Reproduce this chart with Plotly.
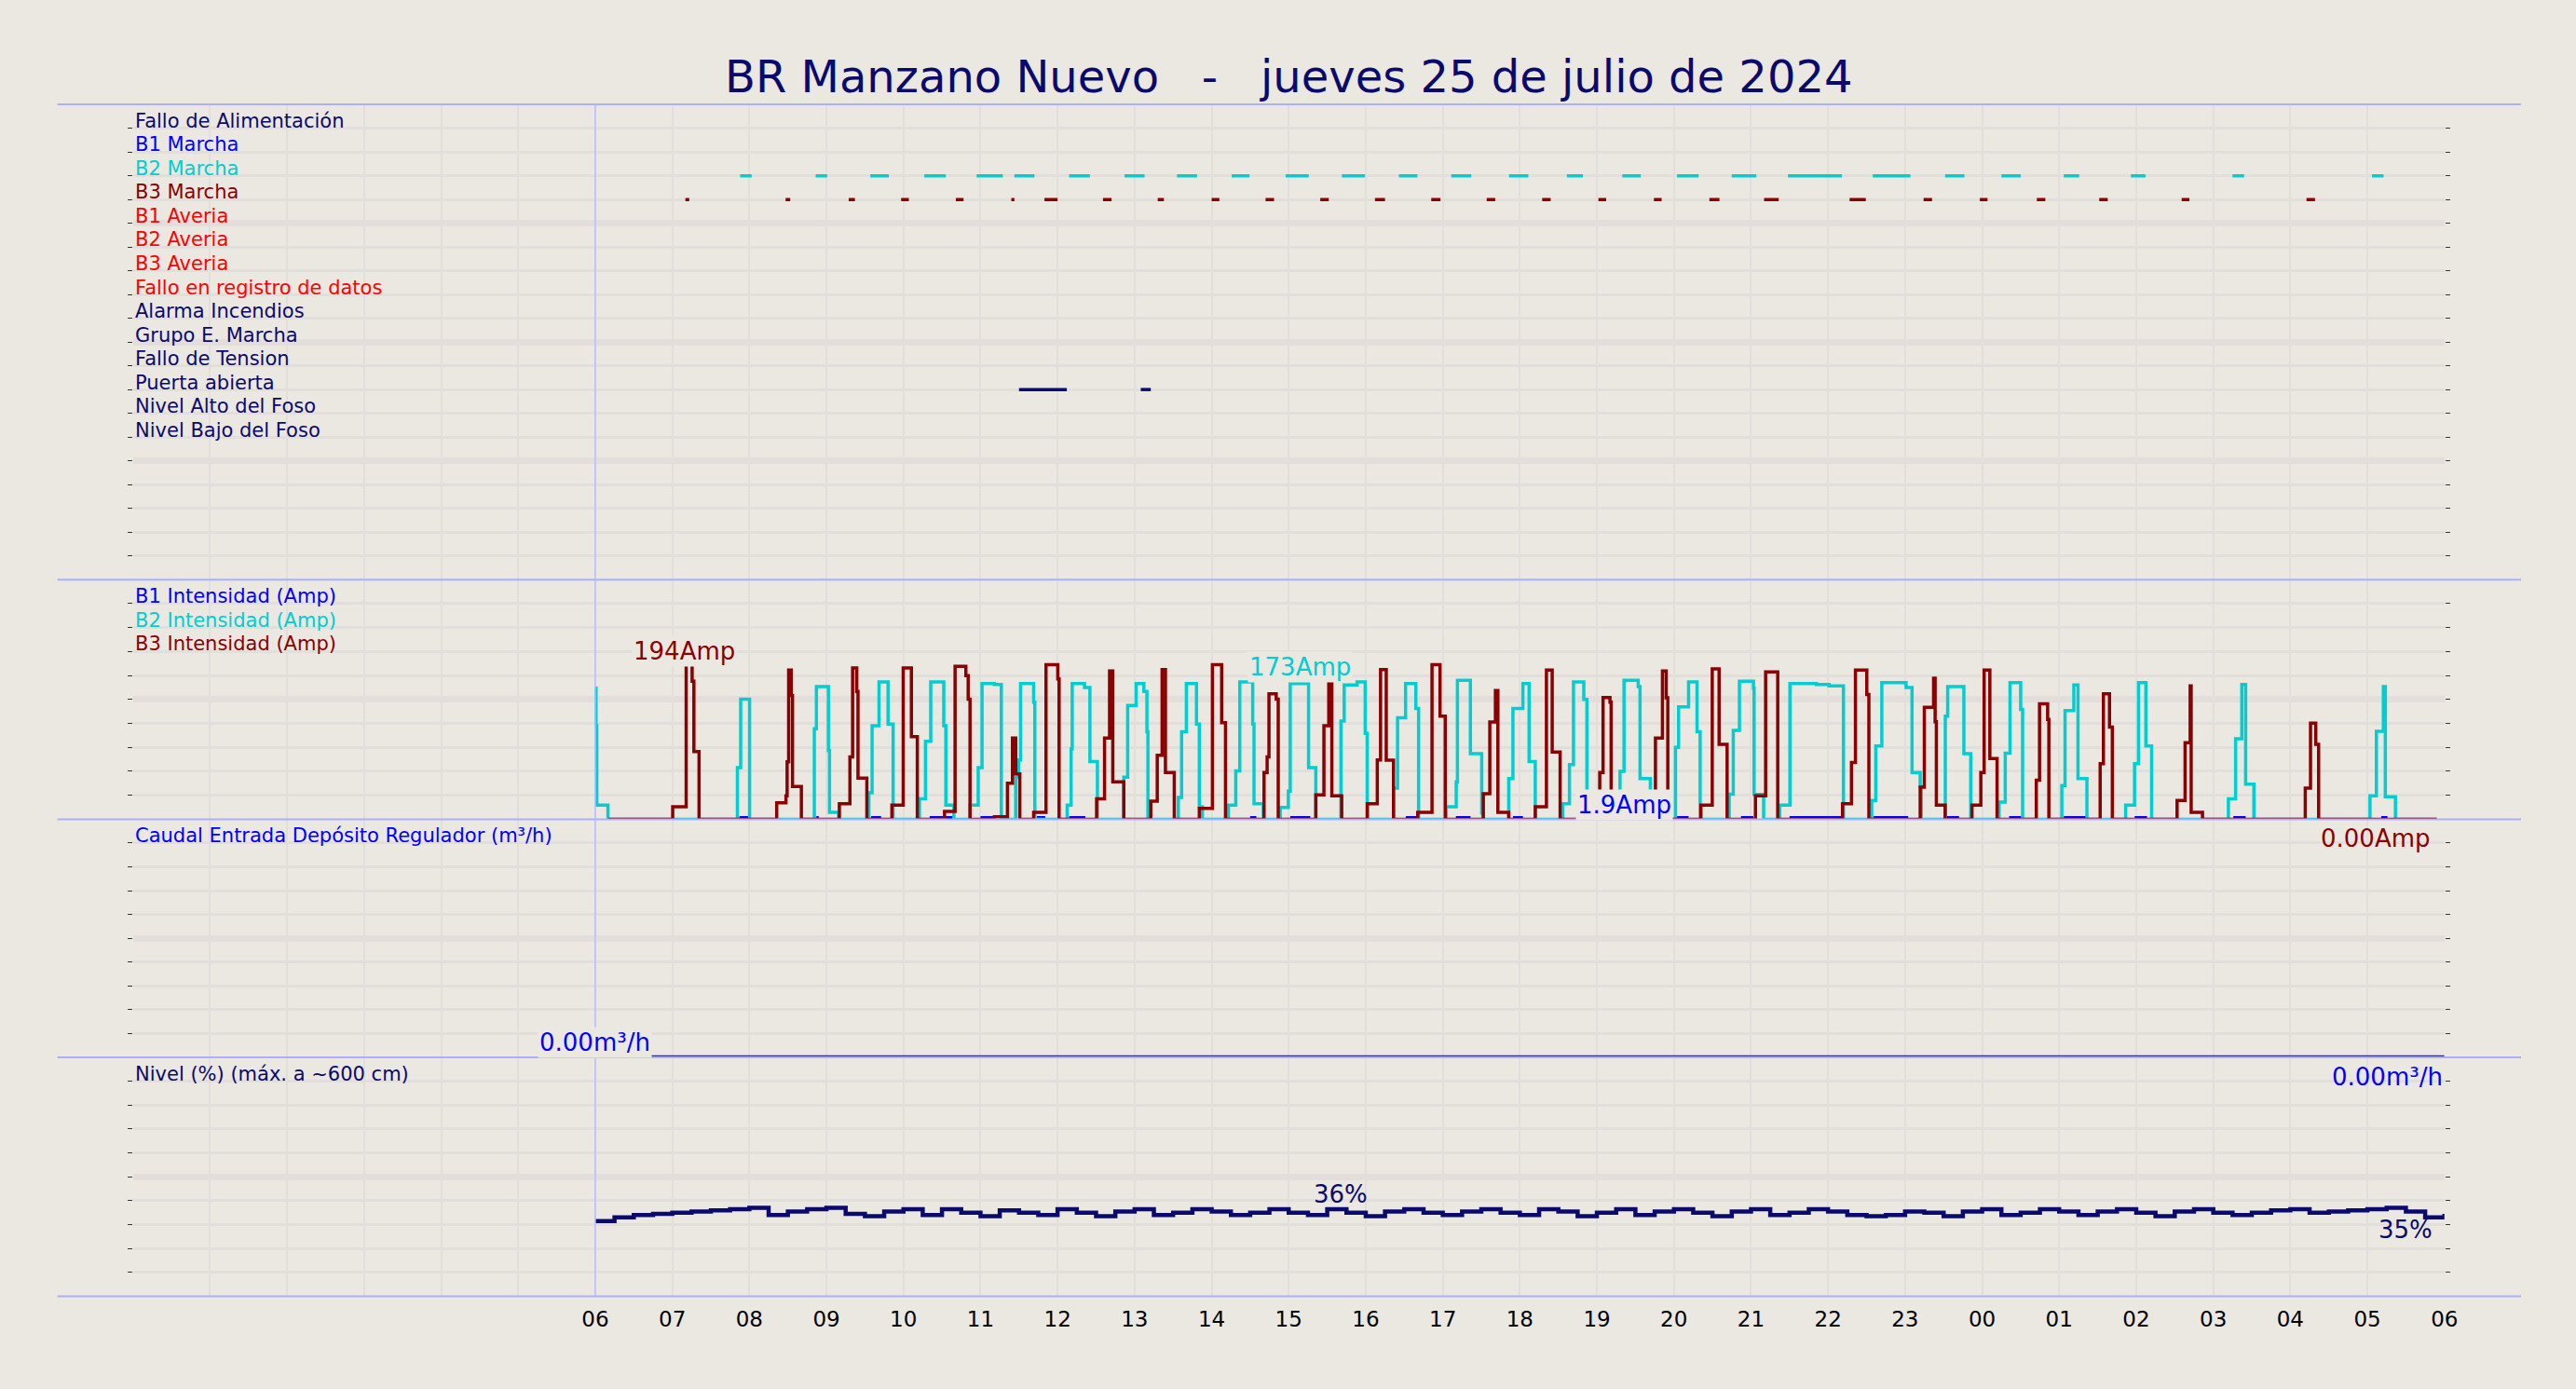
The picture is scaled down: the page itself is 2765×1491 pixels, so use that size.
import plotly.graph_objects as go

BG = "#ebe7e1"
NAVY = "#0a0a6e"
BLUE = "#0000ff"
CYAN = "#00ced1"
DRED = "#8b0000"
RED = "#ff0000"

title = "BR Manzano Nuevo\u00a0\u00a0\u00a0-\u00a0\u00a0\u00a0jueves 25 de julio de 2024"
hour_ticks = list(range(0, 31))
hour_labels = ["" for _ in range(6)] + ["06","07","08","09","10","11","12","13","14","15","16","17","18","19","20","21","22","23","00","01","02","03","04","05","06"]

state_labels = ["Fallo de Alimentación","B1 Marcha","B2 Marcha","B3 Marcha","B1 Averia","B2 Averia","B3 Averia",
                "Fallo en registro de datos","Alarma Incendios","Grupo E. Marcha","Fallo de Tension","Puerta abierta",
                "Nivel Alto del Foso","Nivel Bajo del Foso"]
state_colors = [NAVY, BLUE, CYAN, DRED, RED, RED, RED, RED, NAVY, NAVY, NAVY, NAVY, NAVY, NAVY]
state_rows = [19,18,17,16,15,14,13,12,11,10,9,8,7,6]

b2_marcha = [(7.88,8.03),(8.86,9.01),(9.57,9.81),(10.27,10.55),(10.95,11.29),(11.44,11.70),(12.15,12.42),(12.87,13.13),
             (13.55,13.81),(14.26,14.49),(14.96,15.26),(15.69,15.99),(16.43,16.67),(17.11,17.37),(17.86,18.11),(18.61,18.82),
             (19.33,19.57),(20.04,20.32),(20.75,21.07),(21.48,22.18),(22.58,23.07),(23.52,23.77),(24.25,24.50),(25.06,25.26),
             (25.93,26.12),(27.25,27.40),(29.06,29.21)]
b3_marcha = [(7.17,7.22),(8.47,8.53),(9.29,9.37),(9.97,10.07),(10.68,10.78),(11.40,11.44),(11.83,12.0),(12.59,12.70),
             (13.30,13.38),(14.00,14.10),(14.70,14.81),(15.41,15.52),(16.12,16.25),(16.85,16.97),(17.57,17.68),(18.29,18.40),
             (19.02,19.12),(19.74,19.84),(20.46,20.59),(21.17,21.36),(22.28,22.49),(23.24,23.35),(23.97,24.07),(24.71,24.82),
             (25.52,25.63),(26.59,26.69),(28.21,28.32)]
puerta = [(11.50,12.12),(13.08,13.21)]

b3_t = [6.17,7.005,7.18,7.257,7.28,7.347,
        8.355,8.475,8.49,8.51,8.543,8.56,8.675,
        9.168,9.305,9.34,9.394,9.41,9.525,
        9.85,9.997,10.103,10.18,
        10.533,10.67,10.81,10.84,10.864,
        11.18,11.35,11.415,11.457,11.51,
        11.69,11.85,12.003,12.02,
        12.507,12.61,12.675,12.717,12.86,
        13.21,13.294,13.357,13.4,13.515,
        13.84,14.01,14.13,14.18,
        14.68,14.72,14.744,14.838,14.864,
        15.352,15.457,15.52,15.56,15.688,
        16.02,16.15,16.192,16.266,16.36,
        16.675,16.86,16.964,17.032,
        17.526,17.61,17.683,17.715,17.856,
        18.2,18.345,18.42,18.523,
        19.037,19.08,19.17,19.185,
        19.76,19.851,19.9,19.92,
        20.35,20.497,20.586,20.69,
        21.058,21.19,21.347,
        22.188,22.304,22.356,22.503,22.53,
        23.196,23.25,23.37,23.39,23.406,23.52,
        23.868,23.983,24.026,24.1,24.194,
        24.703,24.745,24.85,24.866,
        25.532,25.574,25.653,25.69,
        26.53,26.634,26.7,26.713,26.86,
        28.194,28.262,28.33,28.367,29.9]
b3_a = [0,15.6,194,172.7,84.8,0,
        20.7,29.3,71.9,186.8,155,41,0,
        19.5,78,189.5,160,51.6,0,
        17.6,189.5,103.5,0,
        9.8,191.4,179.7,150.4,0,
        3,45,101.6,56.7,0,
        8.6,193.4,175.8,0,
        25.4,101.6,185.6,46.9,0,
        22.7,80.1,187.5,58.6,0,
        13.7,193.4,121,0,
        58.6,78,157,150.4,0,
        30.5,117,170,29.3,0,
        19.5,74.2,187.5,74,0,
        8.6,193.4,129,0,
        32,121.9,161,8.6,0,
        15.6,186.8,84,0,
        58.6,152.4,146.5,0,
        101.6,185.6,152,0,
        17.6,188.3,93.8,0,
        29.3,184.4,0,
        19.5,71,186.8,156.3,0,
        40,140,176.6,122,17.6,0,
        17.6,58.6,186.8,76,0,
        48.9,144.6,125,0,
        69.6,157,115.3,0,
        23.5,95.7,167,8.6,0,
        39,120.4,93.8,0,0]

b2_t = [6.0,6.01,6.02,6.165,
        7.845,7.887,8.003,
        8.843,8.87,9.026,9.04,9.158,
        9.551,9.593,9.683,9.8,9.866,
        10.207,10.286,10.354,10.523,10.55,10.654,
        10.864,10.97,11.02,11.18,11.27,
        11.457,11.493,11.52,11.69,11.705,
        12.125,12.176,12.19,12.35,12.42,12.517,
        12.86,12.91,13.02,13.12,13.16,13.173,
        13.567,13.61,13.672,13.803,13.84,13.88,
        14.218,14.313,14.365,14.533,14.55,14.67,
        14.89,14.995,15.02,15.258,15.352,
        15.678,15.72,15.888,15.993,16.02,
        16.36,16.413,16.517,16.65,16.686,
        17.043,17.174,17.19,17.358,17.505,17.52,
        17.856,17.91,18.04,18.12,18.2,
        18.555,18.644,18.696,18.83,18.87,
        19.30,19.352,19.536,19.56,19.694,
        20.02,20.06,20.19,20.3,20.34,
        20.717,20.77,20.85,21.032,21.04,21.164,
        21.373,21.505,21.85,22.015,22.2,
        22.566,22.62,22.698,23.013,23.09,23.196,23.21,
        23.522,23.553,23.763,23.852,
        24.22,24.3,24.362,24.5,24.525,
        25.034,25.076,25.19,25.244,25.36,
        25.863,25.978,26.03,26.125,26.2,
        27.196,27.29,27.37,27.42,27.527,
        29.034,29.117,29.207,29.233,29.364,29.9]
b2_a = [164,117,17.6,0,
        64.5,150.4,0,
        113.3,166,86,8.6,0,
        33.2,117.2,171.9,119,0,
        25.4,97.7,171.9,117,17.6,0,
        17.6,64.5,170,168.8,0,
        52.7,74.2,170,146.5,0,
        17.6,88,170,164.9,72.3,0,
        52.7,142.6,170,160,109.4,0,
        27.3,109.4,170,119,15.6,0,
        17.6,60.6,171.9,119,19.5,0,
        14.8,35.2,170,64.5,0,
        123,168,172,107.5,0,
        39,127,170,138.7,0,
        15.6,46.9,173.9,82,7.8,0,
        50.8,138.7,170,72.3,0,
        19.5,68.4,172,150,0,
        60,173.9,166,50.8,0,
        90,140.7,172,109.4,0,
        31.3,111.4,172.7,164,31,0,
        17.6,170,168.8,167,0,
        23.5,91.8,171,164.9,58.6,41,0,
        129,166,82,0,
        21.5,82.8,171,137.5,0,
        42.2,136,168,50.8,0,
        17.6,69.6,171,91.8,0,
        25.4,100.8,168.8,43.8,0,
        29.3,110.2,166,28.2,0,0]

b1_runs = [(7.87,8.0),(8.87,8.9),(9.58,9.71),(10.34,10.65),(11.0,11.18),(11.73,11.84),(12.15,12.36),
           (14.50,14.58),(15.02,15.28),(16.52,16.68),(17.17,17.36),(17.91,18.04),(20.04,20.19),(20.87,21.03),
           (21.5,22.17),(22.59,23.04),(23.54,23.7),(24.35,24.51),(25.06,25.35),(25.98,26.14),(27.26,27.42),(29.18,29.26)]
b1_value = 1.9

caudal_t = [6.0, 30.0]
caudal_v = [0.0, 0.0]

nivel = [31.5,33,34,34.5,35,35.5,36,36.5,37,34,35.5,36.5,37,34.5,33.5,35.5,36.5,34,36.5,35,33.5,36,35,34,
         36.5,35,33.5,35.5,36.5,34,35,36.5,35.5,34,35,36.5,35,34,36.5,35,33.5,35.5,36.5,35,34,35.5,36.5,35,
         34,36.5,35.5,33.5,35,36.5,34,35.5,36.5,35,33.5,35.5,36.5,34,35,36.5,35.5,34,33.5,34,35.5,35,
         33.5,35.5,36.5,34,35,36.5,35.5,34,35.5,36.5,35,33.5,35.5,36.5,35,34,35,36,36.5,35,35.5,36,36.5,37,35.5,33,34.5]
nivel_t = [6 + 24 * i / (len(nivel) - 1) for i in range(len(nivel))]

fig = go.Figure()

def segs(intervals, row):
    xs, ys = [], []
    for a, b in intervals:
        xs += [a, b, None]
        ys += [row, row, None]
    return xs, ys

x, y = segs(b2_marcha, 17)
fig.add_trace(go.Scatter(x=x, y=y, mode="lines", line=dict(color=CYAN, width=3.5), xaxis="x", yaxis="y"))
x, y = segs(b3_marcha, 16)
fig.add_trace(go.Scatter(x=x, y=y, mode="lines", line=dict(color=DRED, width=3.5), xaxis="x", yaxis="y"))
x, y = segs(puerta, 8)
fig.add_trace(go.Scatter(x=x, y=y, mode="lines", line=dict(color=NAVY, width=3.5), xaxis="x", yaxis="y"))

bx, by = segs(b1_runs, b1_value)
fig.add_trace(go.Scatter(x=bx, y=by, mode="lines", line=dict(color=BLUE, width=3.5), xaxis="x2", yaxis="y2"))
fig.add_trace(go.Scatter(x=b2_t, y=b2_a, mode="lines", line=dict(color=CYAN, width=3.5, shape="hv"), xaxis="x2", yaxis="y2"))
fig.add_trace(go.Scatter(x=b3_t, y=b3_a, mode="lines", line=dict(color=DRED, width=3.5, shape="hv"), xaxis="x2", yaxis="y2"))
fig.add_trace(go.Scatter(x=caudal_t, y=caudal_v, mode="lines", line=dict(color="#2222ff", width=4.5), xaxis="x3", yaxis="y3", cliponaxis=False))
fig.add_trace(go.Scatter(x=nivel_t, y=nivel, mode="lines", line=dict(color=NAVY, width=4.5, shape="hv"), xaxis="x4", yaxis="y4"))

XD = [0.0519, 0.9541]
doms = [[0.5827, 0.9248], [0.4102, 0.5827], [0.2388, 0.4102], [0.0667, 0.2388]]
yranges = [[0, 20], [0, 300], [0, 10], [0, 100]]
ydt = [1, 30, 1, 10]
GRID = "#e2dedb"
layout = dict(width=2765, height=1491, paper_bgcolor=BG, plot_bgcolor=BG, showlegend=False,
              margin=dict(l=0, r=0, t=0, b=0),
              font=dict(family="DejaVu Sans", size=20, color=NAVY))
for i in range(4):
    s = "" if i == 0 else str(i + 1)
    layout["xaxis" + s] = dict(domain=XD, range=[0, 30], anchor="y" + s, tickvals=hour_ticks,
                               ticktext=hour_labels if i == 3 else [""] * 31,
                               showticklabels=(i == 3), gridcolor=GRID, gridwidth=2, zeroline=False,
                               ticks="", tickfont=dict(size=23, color="black"), ticklabelstandoff=8,
                               **({} if i == 0 else {"matches": "x"}))
    layout["yaxis" + s] = dict(domain=doms[i], range=yranges[i], anchor="x" + s, dtick=ydt[i] * 5, tick0=0,
                               gridcolor="#e3dedc", gridwidth=7, zeroline=False, showticklabels=False,
                               ticks="outside", ticklen=5, tickcolor="#333", side="right", mirror="ticks",
                               showline=True, linecolor=BG, linewidth=1,
                               minor=dict(dtick=ydt[i], gridcolor=GRID, gridwidth=2.5, ticks="outside", ticklen=5, tickcolor="#333"))
fig.update_layout(**layout)

shapes = []
for yb in [0.9248, 0.5827, 0.4102, 0.2388, 0.0667]:
    shapes.append(dict(type="line", xref="paper", yref="paper", x0=0.0224, x1=0.984, y0=yb, y1=yb,
                       line=dict(color="#aab0ff", width=2)))
shapes.append(dict(type="line", xref="x", yref="paper", x0=6, x1=6, y0=0.0667, y1=0.9248,
                   line=dict(color="#b8bcff", width=1.5)))
fig.update_layout(shapes=shapes)

ann = [dict(text=title, xref="paper", yref="paper", x=0.5032, y=0.945, showarrow=False,
            font=dict(size=48, color=NAVY), xanchor="center", yanchor="middle")]
for lab, col, row in zip(state_labels, state_colors, state_rows):
    ann.append(dict(text=lab, xref="x", yref="y", x=0, y=row + 0.3, xanchor="left", yanchor="middle",
                    showarrow=False, font=dict(size=21, color=col)))
for lab, col, yv in [("B1 Intensidad (Amp)", BLUE, 279), ("B2 Intensidad (Amp)", CYAN, 249), ("B3 Intensidad (Amp)", DRED, 220)]:
    ann.append(dict(text=lab, xref="x2", yref="y2", x=0, y=yv, xanchor="left", yanchor="middle",
                    showarrow=False, font=dict(size=21, color=col)))
ann.append(dict(text="Caudal Entrada Depósito Regulador (m³/h)", xref="x3", yref="y3", x=0, y=9.3, xanchor="left",
                yanchor="middle", showarrow=False, font=dict(size=21, color=BLUE)))
ann.append(dict(text="Nivel (%) (máx. a ~600 cm)", xref="x4", yref="y4", x=0, y=92.8, xanchor="left",
                yanchor="middle", showarrow=False, font=dict(size=21, color=NAVY)))
big = 26
ann += [
    dict(text="194Amp", xref="x2", yref="y2", x=7.15, y=210, showarrow=False, font=dict(size=big, color=DRED), bgcolor=BG),
    dict(text="173Amp", xref="x2", yref="y2", x=15.15, y=191, showarrow=False, font=dict(size=big, color=CYAN), bgcolor=BG),
    dict(text="1.9Amp", xref="x2", yref="y2", x=19.35, y=18, showarrow=False, font=dict(size=big, color=BLUE), bgcolor=BG),
    dict(text="0.00Amp", xref="x2", yref="y2", x=29.85, y=0, yanchor="top", yshift=-4, xanchor="right", showarrow=False, font=dict(size=big, color=DRED)),
    dict(text="0.00m³/h", xref="x3", yref="y3", x=6.0, y=0.62, showarrow=False, font=dict(size=big, color=BLUE), bgcolor=BG),
    dict(text="0.00m³/h", xref="x3", yref="y3", x=30.0, y=0, yanchor="top", yshift=-4, xanchor="right", showarrow=False, font=dict(size=big, color=BLUE)),
    dict(text="36%", xref="x4", yref="y4", x=15.67, y=42.5, showarrow=False, font=dict(size=big, color=NAVY)),
    dict(text="35%", xref="x4", yref="y4", x=29.5, y=28, showarrow=False, font=dict(size=big, color=NAVY)),
]
fig.update_layout(annotations=ann)
fig.write_html("out.html", config={"displayModeBar": False},
               post_script="document.body.style.margin='0';document.body.style.overflow='hidden';document.body.style.background='%s';" % BG)
